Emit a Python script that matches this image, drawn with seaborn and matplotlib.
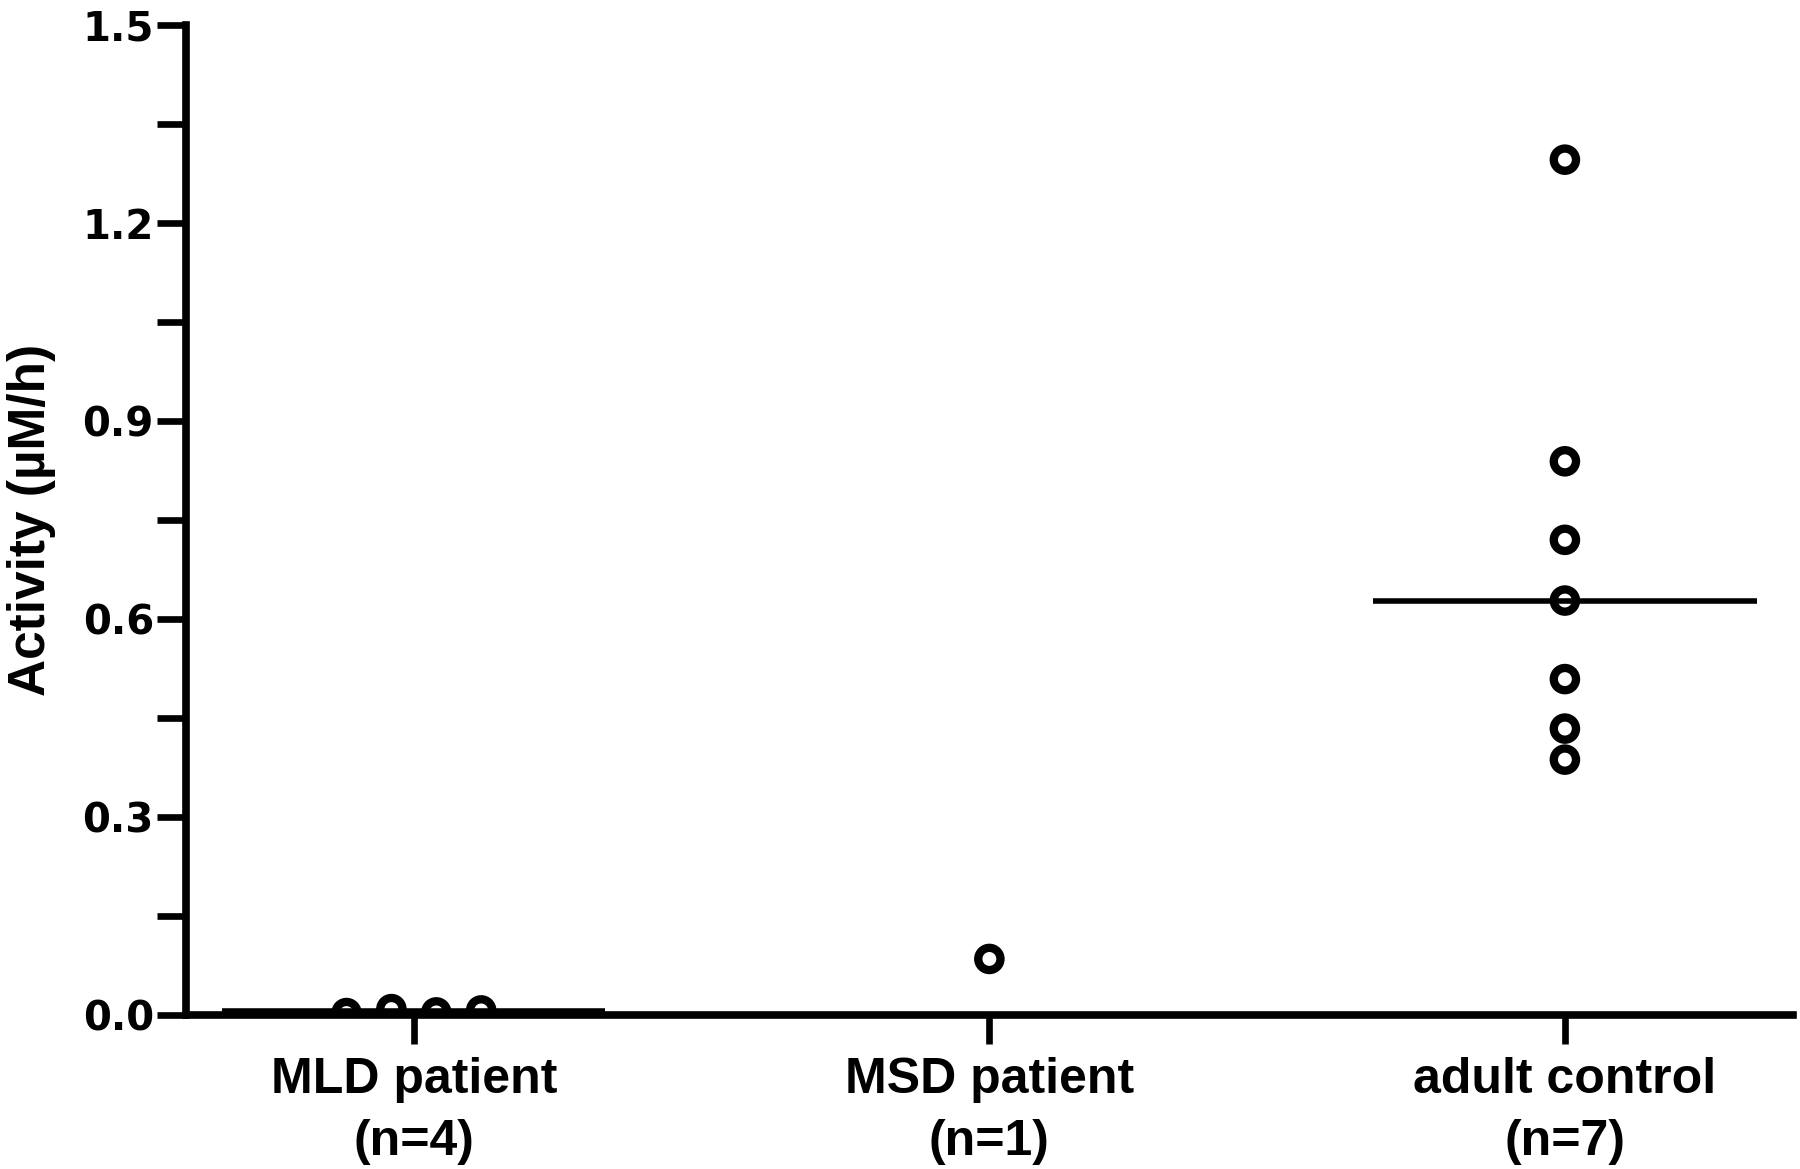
import matplotlib
matplotlib.use('Agg')
import matplotlib.pyplot as plt
import numpy as np
import pandas as pd
import seaborn as sns
from matplotlib.ticker import MultipleLocator, FormatStrFormatter

# Data
groups = ['MLD patient\n(n=4)', 'MSD patient\n(n=1)', 'adult control\n(n=7)']
mld_values = [0.003, 0.009, 0.004, 0.007]
msd_values = [0.085]
control_values = [1.296, 0.839, 0.720, 0.628, 0.509, 0.434, 0.387]

df = pd.DataFrame({
    'group': [groups[0]] * len(mld_values) + [groups[1]] * len(msd_values)
             + [groups[2]] * len(control_values),
    'value': mld_values + msd_values + control_values,
})
df['idx'] = df['group'].map({g: i for i, g in enumerate(groups)})


# Spread points that would overlap (like a Prism scatter dot plot)
def spread(vals, tol=0.03, step=0.078):
    vals = np.asarray(vals)
    order = np.argsort(vals)
    offs = np.zeros(len(vals))
    clusters = [[order[0]]]
    for i in order[1:]:
        if vals[i] - vals[clusters[-1][-1]] < tol:
            clusters[-1].append(i)
        else:
            clusters.append([i])
    for c in clusters:
        c = sorted(c)
        n = len(c)
        for k, i in enumerate(c):
            offs[i] = (k - (n - 1) / 2) * step
    return offs


df['x'] = df['idx'].astype(float)
for g in groups:
    m = df['group'] == g
    df.loc[m, 'x'] = df.loc[m, 'idx'] + spread(df.loc[m, 'value'].values)

# median line only for groups with more than one point
stats = df.groupby('idx')['value'].agg(['median', 'count'])
stats = stats[stats['count'] > 1]

sns.set_style('ticks')
plt.rcParams['font.family'] = ['Liberation Sans', 'DejaVu Sans']
plt.rcParams['font.weight'] = 'bold'
plt.rcParams['text.color'] = 'black'
plt.rcParams['axes.labelcolor'] = 'black'
plt.rcParams['xtick.color'] = 'black'
plt.rcParams['ytick.color'] = 'black'

fig, ax = plt.subplots(figsize=(18, 11.69), dpi=100)
fig.subplots_adjust(left=0.1033, right=0.996, top=0.9786, bottom=0.1317)

sns.scatterplot(data=df, x='x', y='value', ax=ax, s=256, marker='o',
                facecolor='none', edgecolor='black', linewidth=6, zorder=3)
ax.hlines(stats['median'].values, stats.index - 0.333, stats.index + 0.333,
          color='black', linewidth=4, zorder=4)

ax.set_xlim(-0.396, 2.396)
ax.set_ylim(0, 1.5)
ax.yaxis.set_major_locator(MultipleLocator(0.3))
ax.yaxis.set_minor_locator(MultipleLocator(0.15))
ax.yaxis.set_major_formatter(FormatStrFormatter('%.1f'))
ax.set_xticks(range(len(groups)))
ax.set_xticklabels(groups, fontsize=36, fontweight='bold', linespacing=1.45)

for lab in ax.get_yticklabels():
    lab.set_fontsize(29)
    lab.set_fontweight('bold')
    lab.set_family('DejaVu Sans')

ax.tick_params(axis='both', which='both', length=21, width=4.8, color='black')
ax.tick_params(axis='y', which='both', pad=2)
ax.tick_params(axis='x', pad=9)

ax.set_xlabel('')
ax.set_ylabel('Activity (µM/h)', fontsize=37, fontweight='bold')
ax.yaxis.set_label_coords(-0.081, 0.5)

sns.despine(ax=ax)
for side in ['left', 'bottom']:
    ax.spines[side].set_linewidth(5.5)
    ax.spines[side].set_color('black')
    ax.spines[side].set_capstyle('projecting')
ax.spines['bottom'].set_zorder(2)

fig.savefig('out.png', dpi=100)
